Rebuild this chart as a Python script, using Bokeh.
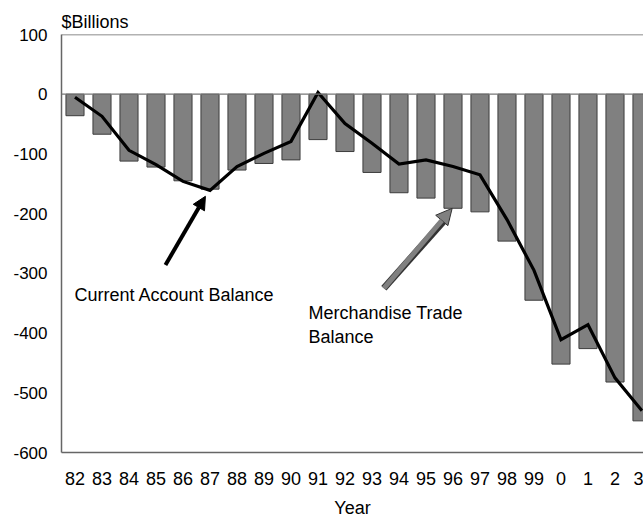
from bokeh.plotting import figure
from bokeh.models import Range1d, Span, Label, Arrow, NormalHead, FixedTicker
from bokeh.embed import file_html
from bokeh.resources import INLINE

years = ["82", "83", "84", "85", "86", "87", "88", "89", "90", "91", "92",
         "93", "94", "95", "96", "97", "98", "99", "0", "1", "2", "3"]
merchandise_trade = [-36, -67, -112, -122, -145, -159, -127, -116, -110, -76, -96,
                     -131, -165, -174, -191, -197, -246, -345, -452, -426, -482, -547]
current_account = [-5, -37, -94, -118, -146, -161, -121, -99, -79, 3, -49,
                   -82, -117, -110, -121, -135, -210, -295, -411, -386, -475, -530]
y_ticks = [-600, -500, -400, -300, -200, -100, 0, 100]

idx = list(range(len(years)))
FONT = "Liberation Sans"

p = figure(width=643, height=520, output_backend="svg", toolbar_location=None,
           x_range=Range1d(-0.5, 21.056), y_range=Range1d(-600, 100),
           title="$Billions")
p.min_border_left = 61
p.min_border_right = 0
p.min_border_top = 34
p.min_border_bottom = 65
p.outline_line_color = None
p.xgrid.visible = False
p.ygrid.visible = False
p.background_fill_color = "white"
p.border_fill_color = "white"

p.title.text_font = FONT
p.title.text_font_size = "18px"
p.title.text_font_style = "normal"
p.title.text_color = "black"
p.title.align = "left"
p.title.standoff = 6
p.title.offset = 0

for ax in (p.xaxis[0], p.yaxis[0]):
    ax.axis_line_color = "#666666"
    ax.axis_line_width = 1.5
    ax.major_tick_line_color = None
    ax.minor_tick_line_color = None
    ax.major_label_text_font = FONT
    ax.major_label_text_color = "black"

p.yaxis[0].ticker = FixedTicker(ticks=y_ticks)
p.yaxis[0].major_label_overrides = {t: str(t) for t in y_ticks}
p.yaxis[0].major_label_text_font_size = "17px"
p.yaxis[0].major_label_standoff = 8

p.xaxis[0].ticker = FixedTicker(ticks=idx)
p.xaxis[0].major_label_overrides = {i: y for i, y in zip(idx, years)}
p.xaxis[0].major_label_text_font_size = "18px"
p.xaxis[0].major_label_standoff = 13
p.xaxis[0].axis_label = "Year"
p.xaxis[0].axis_label_text_font = FONT
p.xaxis[0].axis_label_text_font_size = "18px"
p.xaxis[0].axis_label_text_font_style = "normal"
p.xaxis[0].axis_label_text_color = "black"
p.xaxis[0].axis_label_standoff = 10

# top border and zero line
p.add_layout(Span(location=100, dimension="width", line_color="#666666", line_width=1.5))
p.add_layout(Span(location=0, dimension="width", line_color="#777777", line_width=1.2))

# bars: merchandise trade balance
p.vbar(x=idx, top=merchandise_trade, bottom=0, width=0.67,
       fill_color="#808080", line_color="#3c3c3c", line_width=1)

# line: current account balance
p.line(idx, current_account, line_color="black", line_width=3.2, line_join="miter")

# arrows
p.add_layout(Arrow(x_start=3.35, y_start=-286, x_end=4.83, y_end=-171,
                   line_color="black", line_width=4,
                   end=NormalHead(size=13, fill_color="black", line_color="black")))
p.add_layout(Arrow(x_start=11.44, y_start=-325, x_end=13.8, y_end=-205,
                   line_color="#333333", line_width=7, end=None))
p.add_layout(Arrow(x_start=11.44, y_start=-325, x_end=13.97, y_end=-191,
                   line_color="#808080", line_width=5,
                   end=NormalHead(size=16, fill_color="#808080", line_color="#333333",
                                  line_width=1)))

# texts
p.add_layout(Label(x=-0.02, y=-337, text="Current Account Balance", text_font=FONT,
                   text_font_size="18px", text_baseline="alphabetic", text_color="black"))
p.add_layout(Label(x=8.65, y=-366, text="Merchandise Trade", text_font=FONT,
                   text_font_size="18px", text_baseline="alphabetic", text_color="black"))
p.add_layout(Label(x=8.65, y=-407, text="Balance", text_font=FONT,
                   text_font_size="18px", text_baseline="alphabetic", text_color="black"))

open("out.html", "w").write(file_html(p, INLINE))
